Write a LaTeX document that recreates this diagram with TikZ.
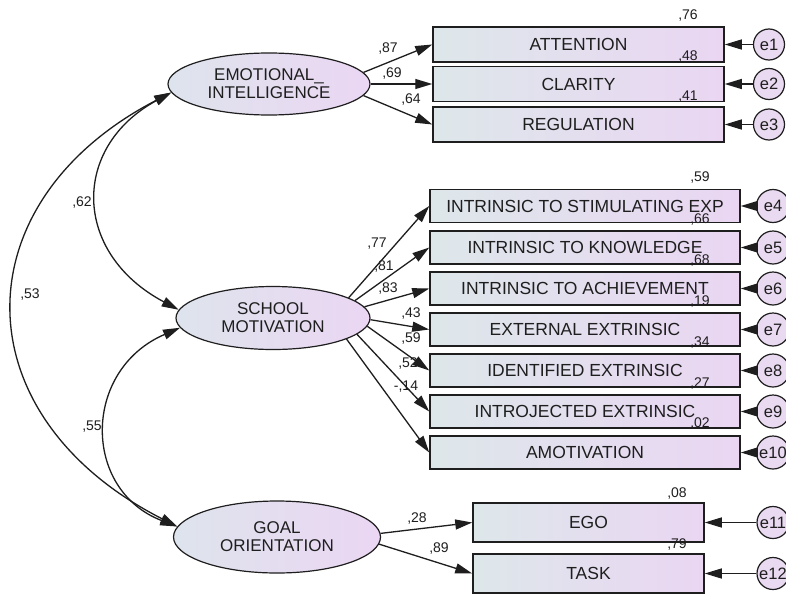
\documentclass[tikz,border=0pt]{standalone}
\usepackage{fontspec}
\setmainfont{Liberation Sans}
\usetikzlibrary{shapes.geometric,arrows.meta}
\definecolor{bl}{RGB}{221,231,234}
\definecolor{br}{RGB}{234,214,243}
\definecolor{el}{RGB}{222,228,237}
\definecolor{er}{RGB}{235,214,243}
\definecolor{ef}{RGB}{233,218,241}
\definecolor{ln}{RGB}{30,30,30}
\begin{document}
\begin{tikzpicture}[x=1pt,y=-1pt,
 obs/.style={draw=ln, line width=1.5pt, left color=bl, right color=br, text=ln,
   font=\fontsize{17.5}{19}\selectfont, inner sep=0pt},
 topbox/.style={obs, minimum width=291pt, minimum height=35pt},
 midbox/.style={obs, minimum width=310pt, minimum height=33pt},
 botbox/.style={obs, minimum width=231pt, minimum height=39pt},
 lat/.style={ellipse, draw=ln, line width=1.2pt, left color=el, right color=er, text=ln,
   inner sep=0pt, align=center, font=\fontsize{17}{18}\selectfont},
 err/.style={circle, draw=ln, line width=1.2pt, fill=ef, text=ln, inner sep=0pt,
   font=\fontsize{16.5}{18}\selectfont},
 lbl/.style={font=\fontsize{14}{16}\selectfont, inner sep=0pt, text=ln},
 arr/.style={line width=1.3pt, draw=ln, -{Triangle[length=17pt,width=10pt]}},
 cov/.style={line width=1.3pt, draw=ln,
   {Triangle[length=17pt,width=10pt]}-{Triangle[length=17pt,width=10pt]}},
]
\clip (0,0) rectangle (786,594);
\fill[white] (0,0) rectangle (786,594);

% latent variables
\node[lat, minimum width=202pt, minimum height=62pt] (EI) at (269,84) {EMOTIONAL\_\\INTELLIGENCE};
\node[lat, minimum width=194pt, minimum height=63pt] (SM) at (273,318) {SCHOOL\\MOTIVATION};
\node[lat, minimum width=207pt, minimum height=72pt] (GO) at (277,537) {GOAL\\ORIENTATION};

% observed variables
\node[topbox] (att) at (578.5,44.5) {ATTENTION};
\node[topbox] (cla) at (578.5,84) {CLARITY};
\node[topbox] (reg) at (578.5,124.5) {REGULATION};

\node[midbox] (ise) at (585,206) {INTRINSIC TO STIMULATING EXP};
\node[midbox] (ikn) at (585,247.5) {INTRINSIC TO KNOWLEDGE};
\node[midbox] (iac) at (585,288.5) {INTRINSIC TO ACHIEVEMENT};
\node[midbox] (eex) at (585,329.5) {EXTERNAL EXTRINSIC};
\node[midbox] (iex) at (585,370.5) {IDENTIFIED EXTRINSIC};
\node[midbox] (jex) at (585,411.5) {INTROJECTED EXTRINSIC};
\node[midbox] (amo) at (585,452.5) {AMOTIVATION};

\node[botbox] (ego) at (588.5,522.5) {EGO};
\node[botbox] (tsk) at (588.5,573.5) {TASK};

% error terms
\node[err, minimum size=31pt] (e1) at (769,44.5) {e1};
\node[err, minimum size=31pt] (e2) at (769,84) {e2};
\node[err, minimum size=31pt] (e3) at (769,124.5) {e3};
\node[err, minimum size=33pt] (e4) at (773,206) {e4};
\node[err, minimum size=33pt] (e5) at (773,247.5) {e5};
\node[err, minimum size=33pt] (e6) at (773,288.5) {e6};
\node[err, minimum size=33pt] (e7) at (773,329.5) {e7};
\node[err, minimum size=33pt] (e8) at (773,370.5) {e8};
\node[err, minimum size=33pt] (e9) at (773,411.5) {e9};
\node[err, minimum size=33pt] (e10) at (773,452.5) {e10};
\node[err, minimum size=32pt] (e11) at (773,522.5) {e11};
\node[err, minimum size=32pt] (e12) at (773,573.5) {e12};

\foreach \e/\b in {e1/att,e2/cla,e3/reg,e4/ise,e5/ikn,e6/iac,e7/eex,e8/iex,e9/jex,e10/amo,e11/ego,e12/tsk}
  \draw[arr] (\e) -- (\b.east);

% loadings
\draw[arr] (EI.7) -- (att.west);
\draw[arr] (EI.0) -- (cla.west);
\draw[arr] (EI.353) -- (reg.west);
\draw[arr] (SM.15) -- (ise.west);
\draw[arr] (SM.12) -- (ikn.west);
\draw[arr] (SM.7) -- (iac.west);
\draw[arr] (SM.359) -- (eex.west);
\draw[arr] (SM.355) -- (iex.west);
\draw[arr] (SM.349) -- (jex.west);
\draw[arr] (SM.344) -- (amo.west);
\draw[arr] (GO.2) -- (ego.west);
\draw[arr] (GO.356) -- (tsk.west);

% covariances
\draw[cov] (EI.185) .. controls (71,147) and (72,253) .. (SM.175);
\draw[cov] (EI.185) .. controls (-40,202) and (-40,416) .. (GO.174);
\draw[cov] (SM.186) .. controls (82,370) and (82,490) .. (GO.174);

% coefficient labels
\node[lbl] (c62) at (82,203) {,62};
\node[lbl] (c53) at (30,295) {,53};
\node[lbl] (c55) at (92,427) {,55};

\node[lbl] (l87) at (388,49) {,87};
\node[lbl] (l69) at (392,74) {,69};
\node[lbl] (l64) at (411,100) {,64};
\node[lbl] (l77) at (377,244) {,77};
\node[lbl] (l81) at (384,267) {,81};
\node[lbl] (l83) at (388,289) {,83};
\node[lbl] (l43) at (411,314) {,43};
\node[lbl] (l59) at (411,339) {,59};
\node[lbl] (l52) at (408,364) {,52};
\node[lbl] (l14) at (406,387) {-,14};
\node[lbl] (l28) at (417,518) {,28};
\node[lbl] (l89) at (439,548) {,89};

% squared multiple correlations
\node[lbl] (r76) at (688,16) {,76};
\node[lbl] (r48) at (688,57) {,48};
\node[lbl] (r41) at (688,97) {,41};
\node[lbl] (r59) at (700,178) {,59};
\node[lbl] (r66) at (700,220) {,66};
\node[lbl] (r68) at (700,261) {,68};
\node[lbl] (r19) at (700,302) {,19};
\node[lbl] (r34) at (700,343) {,34};
\node[lbl] (r27) at (700,384) {,27};
\node[lbl] (r02) at (700,424) {,02};
\node[lbl] (r08) at (677,493) {,08};
\node[lbl] (r79) at (677,544) {,79};
\end{tikzpicture}
\end{document}
